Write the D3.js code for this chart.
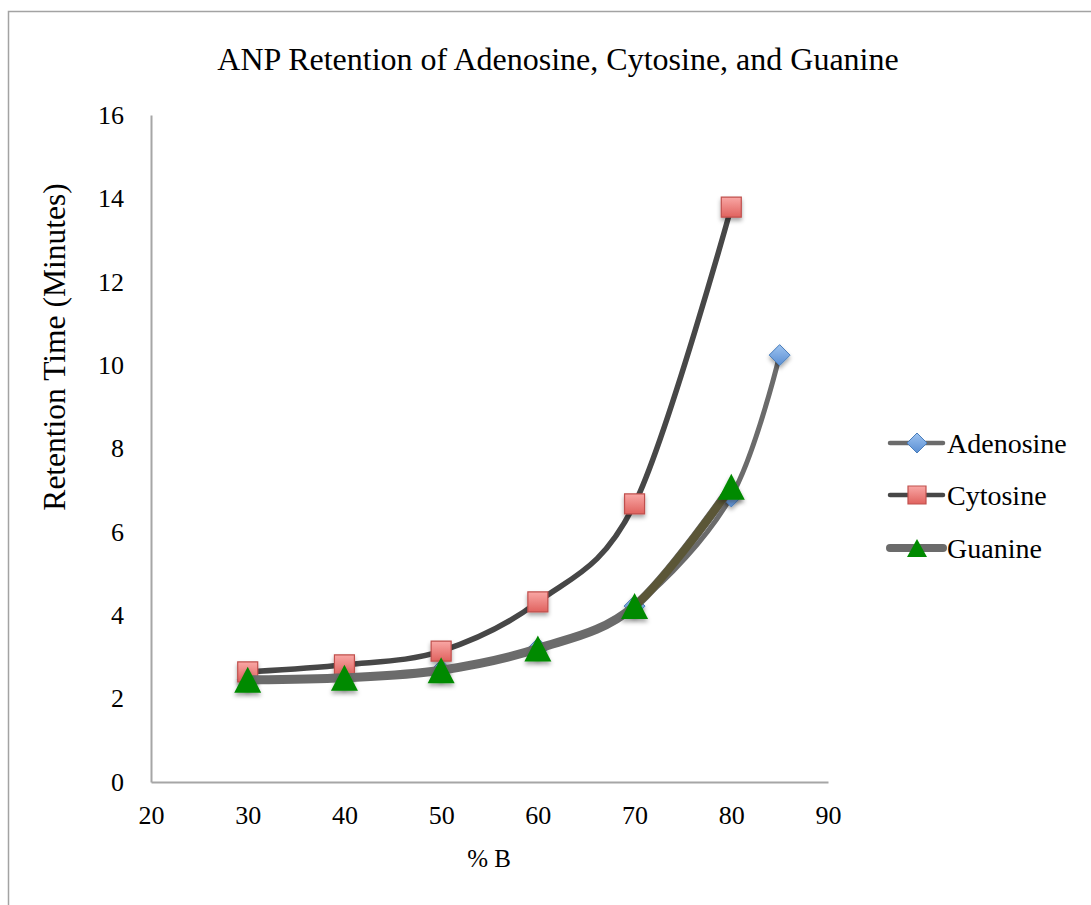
<!DOCTYPE html>
<html><head><meta charset="utf-8">
<script src="https://cdn.jsdelivr.net/npm/d3@7"></script>
<style>html,body{margin:0;padding:0;background:#fff;}svg{display:block;}</style>
</head><body>
<script>
// ---- data ----
const titleText = "ANP Retention of Adenosine, Cytosine, and Guanine";
const xTitle = "% B";
const yTitle = "Retention Time (Minutes)";
const xTicks = [20, 30, 40, 50, 60, 70, 80, 90];
const yTicks = [0, 2, 4, 6, 8, 10, 12, 14, 16];
const seriesNames = ["Adenosine", "Cytosine", "Guanine"];
const adenosineX = [30, 40, 50, 60, 70, 80, 85];
const adenosineY = [2.45, 2.5, 2.68, 3.2, 4.22, 6.85, 10.24];
const cytosineX = [30, 40, 50, 60, 70, 80];
const cytosineY = [2.64, 2.81, 3.14, 4.32, 6.67, 13.79];
const guanineX = [30, 40, 50, 60, 70, 80];
const guanineY = [2.45, 2.5, 2.68, 3.2, 4.22, 7.08];
const guanineOliveFrom = 70, guanineOliveTo = 80;

const W = 1091, H = 905;
const svg = d3.select("body").append("svg").attr("width", W).attr("height", H);
const defs = svg.append("defs");
const f = defs.append("filter").attr("id", "sh").attr("x", "-50%").attr("y", "-50%").attr("width", "200%").attr("height", "200%");
f.append("feDropShadow").attr("dx", 0).attr("dy", 3).attr("stdDeviation", 2).attr("flood-color", "#000").attr("flood-opacity", 0.35);
const gSq = defs.append("linearGradient").attr("id", "gsq").attr("x1", 0).attr("y1", 0).attr("x2", 0).attr("y2", 1);
gSq.append("stop").attr("offset", "0%").attr("stop-color", "#f9a7a5");
gSq.append("stop").attr("offset", "100%").attr("stop-color", "#e0625e");
const gDi = defs.append("linearGradient").attr("id", "gdi").attr("x1", 0).attr("y1", 0).attr("x2", 0).attr("y2", 1);
gDi.append("stop").attr("offset", "0%").attr("stop-color", "#9dc3f0");
gDi.append("stop").attr("offset", "100%").attr("stop-color", "#5b8fd3");

svg.append("rect").attr("width", W).attr("height", H).attr("fill", "#fff");
svg.append("rect").attr("x", 8.5).attr("y", 11.5).attr("width", W + 50).attr("height", H + 50)
  .attr("fill", "none").attr("stroke", "#a3a3a3").attr("stroke-width", 1.5);

const x = d3.scaleLinear().domain([20, 90]).range([151, 828]);
const y = d3.scaleLinear().domain([0, 16]).range([782, 115]);

const serif = "'Liberation Serif','Times New Roman',serif";

// title
svg.append("text").attr("x", 558).attr("y", 70).attr("text-anchor", "middle")
  .style("font-family", serif).style("font-size", "32px").attr("fill", "#000").text(titleText);

// axes
const yAxis = svg.append("g").attr("transform", `translate(${x(20)},0)`)
  .call(d3.axisLeft(y).tickValues(yTicks).tickSize(0).tickSizeOuter(0).tickPadding(27).tickFormat(d3.format("d")));
const xAxis = svg.append("g").attr("transform", `translate(0,${y(0)})`)
  .call(d3.axisBottom(x).tickValues(xTicks).tickSize(0).tickSizeOuter(0).tickPadding(24).tickFormat(d3.format("d")));
[yAxis, xAxis].forEach(g => {
  g.select(".domain").attr("stroke", "#a6a6a6").attr("stroke-width", 2);
  g.selectAll("text").style("font-family", serif).style("font-size", "26px").attr("fill", "#000");
});

svg.append("text").attr("x", 489).attr("y", 867).attr("text-anchor", "middle")
  .style("font-family", serif).style("font-size", "25px").text(xTitle);
svg.append("text").attr("transform", `translate(65,347) rotate(-90)`).attr("text-anchor", "middle")
  .style("font-family", serif).style("font-size", "31.5px").text(yTitle);

// markers
function diamond(r) { return `M0,${-r}L${r},0L0,${r}L${-r},0Z`; }
function square(s) { return `M${-s},${-s}H${s}V${s}H${-s}Z`; }
function triangle(w, h) { return `M0,${-h / 2}L${w / 2},${h / 2}L${-w / 2},${h / 2}Z`; }

const line = d3.line().x(d => x(d[0])).y(d => y(d[1])).curve(d3.curveCardinal.tension(0));
const series = [
  { name: seriesNames[0], pts: d3.zip(adenosineX, adenosineY), color: "#6b6b6b", width: 5,
    mark: g => g.append("path").attr("d", diamond(10.5)).attr("fill", "url(#gdi)").attr("stroke", "#4a7ebb").attr("stroke-width", 1),
    legendW: 4.5 },
  { name: seriesNames[1], pts: d3.zip(cytosineX, cytosineY), color: "#474747", width: 5.5,
    mark: g => g.append("path").attr("d", square(10)).attr("fill", "url(#gsq)").attr("stroke", "#c0504d").attr("stroke-width", 1.2),
    legendW: 4.5 },
  { name: seriesNames[2], pts: d3.zip(guanineX, guanineY), color: "#6b6b6b", width: 9,
    mark: g => g.append("path").attr("d", triangle(27, 26)).attr("fill", "#008a00"),
    legendW: 8 }
];

defs.append("clipPath").attr("id", "oliveClip").append("rect")
  .attr("x", x(guanineOliveFrom)).attr("y", 0).attr("width", x(guanineOliveTo) - x(guanineOliveFrom)).attr("height", H);

series.forEach((s, i) => {
  const g = svg.append("g");
  g.append("path").attr("d", line(s.pts)).attr("fill", "none").attr("stroke", s.color)
    .attr("stroke-width", s.width).attr("stroke-linecap", "round").attr("stroke-linejoin", "round");
  if (i === 2) {
    g.append("path").attr("d", line(s.pts)).attr("fill", "none").attr("stroke", "#5b5637")
      .attr("stroke-width", 8).attr("clip-path", "url(#oliveClip)");
  }
  s.pts.forEach(p => {
    const m = g.append("g").attr("transform", `translate(${x(p[0])},${y(p[1])})`).attr("filter", "url(#sh)");
    s.mark(m);
  });
});

// legend
const legY = [443, 495, 548];
series.forEach((s, i) => {
  const g = svg.append("g").attr("transform", `translate(0,${legY[i]})`);
  g.append("line").attr("x1", 890).attr("x2", 943).attr("y1", 0).attr("y2", 0)
    .attr("stroke", s.color).attr("stroke-width", s.legendW).attr("stroke-linecap", "round");
  const m = g.append("g").attr("transform", "translate(917,0)");
  if (i === 2) m.append("path").attr("d", triangle(20, 18)).attr("fill", "#008a00");
  else if (i === 1) m.append("path").attr("d", square(9)).attr("fill", "url(#gsq)").attr("stroke", "#c0504d").attr("stroke-width", 1.2);
  else m.append("path").attr("d", diamond(10)).attr("fill", "url(#gdi)").attr("stroke", "#4a7ebb").attr("stroke-width", 1);
  g.append("text").attr("x", 947).attr("y", 10).style("font-family", serif).style("font-size", "28px").text(s.name);
});
</script>
</body></html>
